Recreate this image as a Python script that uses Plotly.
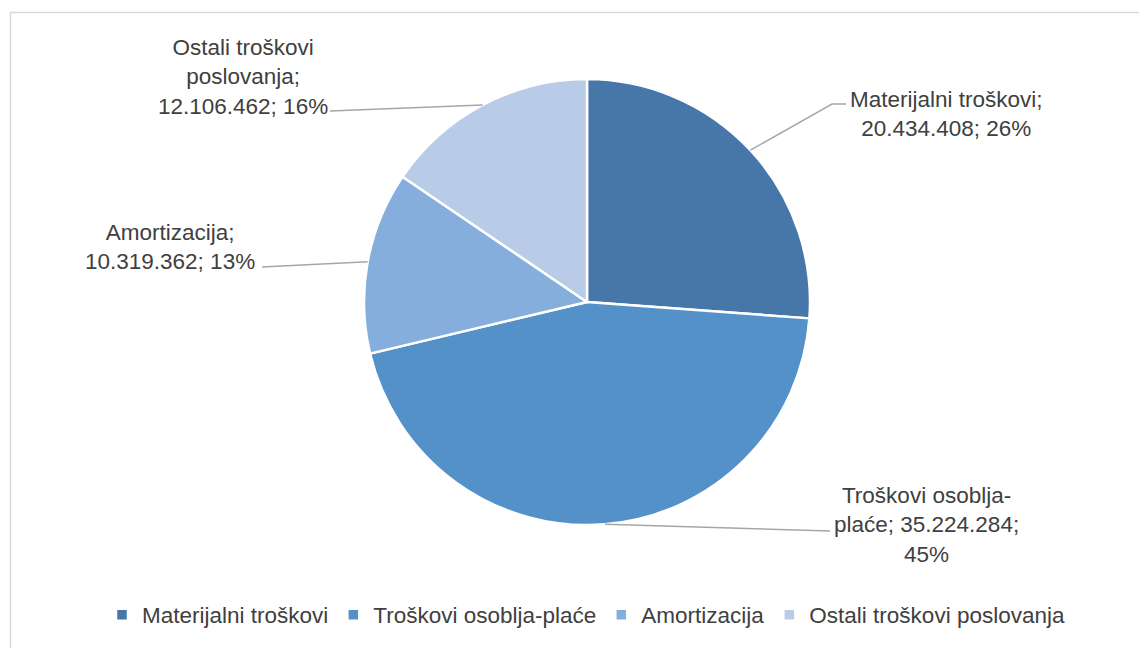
import math
import plotly.graph_objects as go

# ---- data ----
categories = ["Materijalni troškovi", "Troškovi osoblja-plaće", "Amortizacija", "Ostali troškovi poslovanja"]
values = [20434408, 35224284, 10319362, 12106462]
label_texts = [
    "Materijalni troškovi;<br>20.434.408; 26%",
    "Troškovi osoblja-<br>plaće; 35.224.284;<br>45%",
    "Amortizacija;<br>10.319.362; 13%",
    "Ostali troškovi<br>poslovanja;<br>12.106.462; 16%",
]
colors = ["#4677A8", "#5591C9", "#85AEDC", "#B8CCE7"]

# ---- layout (pixels, in screenshot coordinates) ----
W, H = 1147, 648
OFF = 8  # page body margin
cx, cy, R = 587, 302, 223
label_pos = [(946, 114), (926, 525), (170, 247), (243, 77)]
leader_ends = [[(832, 104), (846, 104)], [(830, 531)], [(262, 267)], [(330, 111)]]

def px(x):
    return (x - OFF) / W

def py(y):
    return 1 - (y - OFF) / H

fig = go.Figure()
fig.add_trace(go.Pie(
    labels=categories,
    values=values,
    sort=False,
    direction="clockwise",
    rotation=0,
    marker=dict(colors=colors, line=dict(color="white", width=2.5)),
    textinfo="none",
    hoverinfo="label+value+percent",
    domain=dict(x=[px(cx - R), px(cx + R)], y=[py(cy + R), py(cy - R)]),
))

shapes = []
annotations = []
total = sum(values)
cum = 0
font = dict(family="Liberation Sans, Arial, sans-serif", size=22.5, color="#404040")
for i, v in enumerate(values):
    theta = 2 * math.pi * (cum + v / 2) / total
    cum += v
    sx = cx + R * math.sin(theta)
    sy = cy - R * math.cos(theta)
    pts = [(sx, sy)] + leader_ends[i]
    path = "M " + " L ".join(f"{px(x)},{py(y)}" for x, y in pts)
    shapes.append(dict(type="path", xref="paper", yref="paper", path=path,
                       line=dict(color="#A6A6A6", width=1.5)))
    lx, ly = label_pos[i]
    annotations.append(dict(x=px(lx), y=py(ly), xref="paper", yref="paper",
                            text=label_texts[i], showarrow=False, align="center",
                            xanchor="center", yanchor="middle", font=font))

# outer chart border
shapes.append(dict(type="rect", xref="paper", yref="paper",
                   x0=px(10.5), y0=py(12.5), x1=px(1175), y1=py(680),
                   line=dict(color="#D9D9D9", width=1.5), fillcolor="rgba(0,0,0,0)"))

fig.update_layout(
    width=W, height=H,
    margin=dict(l=0, r=0, t=0, b=0),
    paper_bgcolor="white",
    plot_bgcolor="white",
    shapes=shapes,
    annotations=annotations,
    showlegend=True,
    legend=dict(orientation="h", x=px(586), xanchor="center", y=py(615), yanchor="middle",
                font=dict(family="Liberation Sans, Arial, sans-serif", size=22.5, color="#404040"),
                itemwidth=30, traceorder="normal"),
)

fig.write_html("out.html")
